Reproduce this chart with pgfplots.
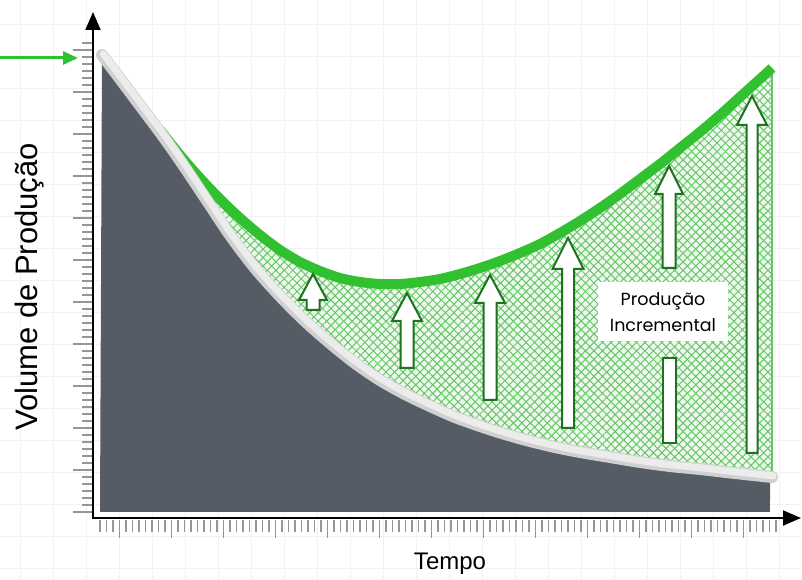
\documentclass[border=0pt]{standalone}
\usepackage{pgfplots}
\pgfplotsset{compat=1.18}
\usepackage{pgfplotstable}
\usepgfplotslibrary{fillbetween}
\usetikzlibrary{arrows.meta,patterns.meta}
\usepackage{fontspec}
\setmainfont{Liberation Sans}
\newfontfamily\pop{Poppins}

\definecolor{darkfill}{RGB}{86,92,102}
\definecolor{greenline}{RGB}{48,192,48}
\definecolor{hatchbg}{RGB}{236,249,236}
\definecolor{hatchline}{RGB}{104,196,104}
\definecolor{arrowgreen}{RGB}{30,115,30}
\definecolor{bandgray}{RGB}{208,208,208}
\definecolor{bandlight}{RGB}{236,236,236}
\definecolor{tickgray}{RGB}{150,150,150}
\definecolor{gridgray}{RGB}{242,242,242}

\tikzset{fill between/on layer=main}

% decline curve (centre of the light band)
\pgfplotstableread{
x y
102 525
115 508
130 488
145 468
160 448
175 427
190 405
210 375
230 345
255 312
280 284
305 259
330 237
355 217
380 200
405 186
430 174
455 163
480 154
505 146
530 139
555 133
580 128
610 123
640 118
670 114
700 111
735 107
772 103
}\declinetab

% production with the incremental effect
\pgfplotstableread{
x y
160 450
180 425
200 402
220 381
240 362
260 345
280 330
300 318
320 309
340 302
360 298
380 296
400 296
420 298
440 301
460 306
480 312
500 319
520 327
540 336
560 347
580 359
600 372
620 386
640 401
660 416
680 432
700 448
720 465
740 483
760 501
772 512
}\greentab

\pgfplotstableread{
x y
100 68
770 68
}\basetab

\begin{document}
\begin{tikzpicture}
% faint background grid
\foreach \gx in {20,53,...,800} \draw[gridgray, line width=0.8pt] (\gx pt,0pt)--(\gx pt,580pt);
\foreach \gy in {12,44,...,580} \draw[gridgray, line width=0.8pt] (0pt,\gy pt)--(802pt,\gy pt);

\begin{axis}[at={(0pt,0pt)}, anchor=south west, scale only axis,
  width=802pt, height=580pt, xmin=0, xmax=802, ymin=0, ymax=580,
  hide axis, clip=false,
  arrowst/.style={fill=white, draw=arrowgreen, line width=2pt, line join=miter}]

\addplot[draw=none, smooth, name path=D] table {\declinetab};
\addplot[draw=none, smooth, name path=G] table {\greentab};
\addplot[draw=none, name path=B] table {\basetab};

% declining base production
\addplot[fill=darkfill, draw=none] fill between[of=D and B, soft clip={domain=100:770}];

% incremental production (hatched)
\addplot[fill=hatchbg, draw=none] fill between[of=G and D, soft clip={domain=160:772}];
\addplot[pattern={Lines[angle=45,distance=6pt,line width=1pt]}, pattern color=hatchline, draw=none] fill between[of=G and D, soft clip={domain=160:772}];
\addplot[pattern={Lines[angle=-45,distance=6pt,line width=1pt]}, pattern color=hatchline, draw=none] fill between[of=G and D, soft clip={domain=160:772}];
\addplot[color=hatchline, line width=1.2pt] coordinates {(772,512) (772,103)};

% green curve
\addplot[smooth, color=greenline, line width=10pt] table {\greentab};

% light band on the decline curve
\addplot[smooth, color=bandgray, line width=12pt, line cap=round] table {\declinetab};
\addplot[smooth, color=bandlight, line width=7pt, line cap=round, transform canvas={xshift=1.2pt,yshift=1.2pt}] table {\declinetab};

% block arrows
\addplot[arrowst] coordinates {(306.5,270) (306.5,280) (299,280) (313,306) (327,280) (319.5,280) (319.5,270)} -- cycle;
\addplot[arrowst] coordinates {(400.5,212) (400.5,259) (392,259) (407,287) (422,259) (413.5,259) (413.5,212)} -- cycle;
\addplot[arrowst] coordinates {(483.5,180) (483.5,277) (475,277) (490,305) (505,277) (496.5,277) (496.5,180)} -- cycle;
\addplot[arrowst] coordinates {(562,152) (562,311) (552.5,311) (568,342) (583.5,311) (574,311) (574,152)} -- cycle;
\addplot[arrowst] coordinates {(662.5,312) (662.5,386) (655,386) (669,414) (683,386) (675.5,386) (675.5,312)} -- cycle;
\addplot[arrowst] coordinates {(663,137) (663,222) (676,222) (676,137)} -- cycle;
\addplot[arrowst] coordinates {(746.5,127) (746.5,455) (737,455) (752,484) (767,455) (757.5,455) (757.5,127)} -- cycle;

% labels
\node[fill=white, inner sep=0pt, minimum width=130pt, minimum height=59pt, align=center,
  font=\pop\fontsize{17.5}{26}\selectfont] at (axis cs:663,268) {Produção\\Incremental};
\node[rotate=90, inner sep=0pt, font=\fontsize{31}{36}\selectfont] at (axis cs:30,293) {Volume de Produção};
\node[inner sep=0pt, font=\fontsize{24}{28}\selectfont] at (axis cs:450,16) {Tempo};
\end{axis}

% tick marks
\foreach \k in {0,...,67} {
  \pgfmathsetmacro\yy{68+7*\k}
  \pgfmathtruncatemacro\m{mod(\k,6)}
  \ifnum\m=0 \draw[tickgray, line width=1.2pt] (73pt,\yy pt)--(92pt,\yy pt);
  \else \draw[tickgray, line width=1.2pt] (82pt,\yy pt)--(92pt,\yy pt); \fi
}
\foreach \k in {0,...,104} {
  \pgfmathsetmacro\xx{100+6.5*\k}
  \pgfmathtruncatemacro\m{mod(\k,8)}
  \ifnum\m=3 \draw[tickgray, line width=1.2pt] (\xx pt,60pt)--(\xx pt,42pt);
  \else \draw[tickgray, line width=1.2pt] (\xx pt,60pt)--(\xx pt,48pt); \fi
}

% axes
\draw[black, line width=2pt, -{Triangle[length=18pt,width=15pt]}] (93pt,61pt) -- (93pt,568pt);
\draw[black, line width=2pt, -{Triangle[length=18pt,width=15pt]}] (92pt,62pt) -- (801pt,62pt);

% pointer arrow
\draw[greenline, line width=3pt, -{Triangle[length=15pt,width=13pt]}] (0pt,522pt) -- (78pt,522pt);

\pgfresetboundingbox
\path (0pt,0pt) rectangle (802pt,580pt);
\end{tikzpicture}
\end{document}
